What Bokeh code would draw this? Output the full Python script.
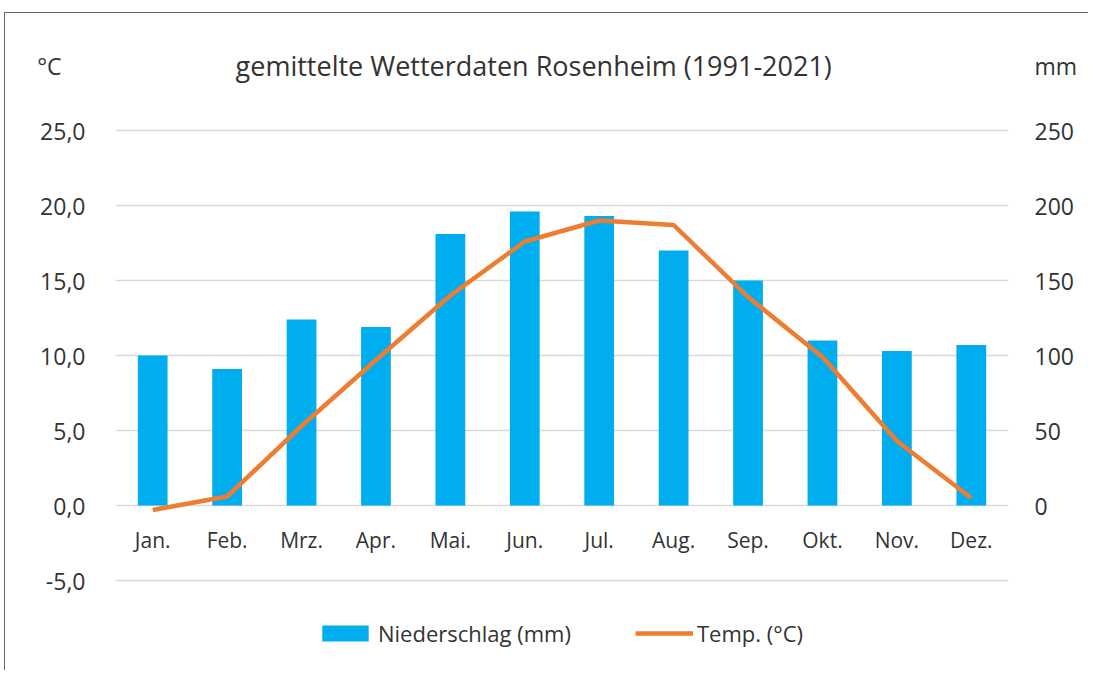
from bokeh.plotting import figure
from bokeh.models import (Range1d, LinearAxis, FixedTicker, CustomJSTickFormatter,
                          Label, Legend, LegendItem, FactorRange)
from bokeh.core.properties import value
from bokeh.embed import file_html
from bokeh.resources import INLINE

months = ["Jan.", "Feb.", "Mrz.", "Apr.", "Mai.", "Jun.", "Jul.", "Aug.", "Sep.", "Okt.", "Nov.", "Dez."]
niederschlag_mm = [100, 91, 124, 119, 181, 196, 193, 170, 150, 110, 103, 107]
temp_c = [-0.3, 0.6, 5.3, 9.7, 14.0, 17.6, 19.0, 18.7, 13.9, 9.9, 4.3, 0.5]
left_ticks = [-5, 0, 5, 10, 15, 20, 25]
right_ticks = [0, 50, 100, 150, 200, 250]
left_unit = "°C"
right_unit = "mm"

FONT = "Open Sans"
TXT = "#333333"
BLUE = "#00AEEF"
ORANGE = "#ED7D31"
UNIT_Y = 29.33  # vertical position of unit labels (in °C units)

# y range extended beyond -5..25 so that title and legend sit inside the frame
p = figure(x_range=FactorRange(*months, range_padding=0), y_range=Range1d(-11, 31),
           frame_width=893, frame_height=630,
           min_border_left=110, min_border_right=80, min_border_top=27, min_border_bottom=0,
           output_backend="svg", toolbar_location=None)
p.extra_y_ranges = {"mm": Range1d(-110, 310)}
p.outline_line_color = None
p.background_fill_color = "white"
p.border_fill_color = "white"
p.styles = {"margin-left": "4px", "margin-top": "12px",
            "border-left": "1px solid #666", "border-top": "1px solid #666"}

bars = p.vbar(x=months, top=niederschlag_mm, width=0.4, y_range_name="mm",
              fill_color=BLUE, line_color=None)
line = p.line(x=months, y=temp_c, line_color=ORANGE, line_width=4.5, line_join="round")

# month labels along the 0 line
p.text(x=months, y=[-2.33] * len(months), text=months, text_align="center",
       text_baseline="middle", text_font=value(FONT), text_font_size="21px", text_color=TXT)
p.xaxis.visible = False

# left axis (unit label drawn as an extra tick above the scale)
la = p.yaxis[0]
la.ticker = FixedTicker(ticks=left_ticks + [UNIT_Y])
la.formatter = CustomJSTickFormatter(
    args=dict(unit=left_unit),
    code="if (tick > 26) { return unit + '\\u00a0\\u00a0\\u00a0\\u00a0'; } return tick.toFixed(1).replace('.', ',');")
la.axis_line_color = None
la.major_tick_line_color = None
la.minor_tick_line_color = None
la.major_label_standoff = 24
la.major_label_text_font = FONT
la.major_label_text_font_size = "23px"
la.major_label_text_color = TXT

# right axis
ra = LinearAxis(y_range_name="mm", ticker=FixedTicker(ticks=right_ticks + [UNIT_Y * 10]))
ra.formatter = CustomJSTickFormatter(
    args=dict(unit=right_unit),
    code="if (tick > 260) { return unit; } return tick.toFixed(0);")
ra.axis_line_color = None
ra.major_tick_line_color = None
ra.minor_tick_line_color = None
ra.major_label_standoff = 20
ra.major_label_text_font = FONT
ra.major_label_text_font_size = "23px"
ra.major_label_text_color = TXT
p.add_layout(ra, "right")

p.xgrid.grid_line_color = None
p.ygrid.grid_line_color = "#D9D9D9"
p.ygrid.grid_line_width = 1.5
p.ygrid.ticker = FixedTicker(ticks=left_ticks)

# title
p.add_layout(Label(x=5.62, y=UNIT_Y, text="gemittelte Wetterdaten Rosenheim (1991-2021)",
                   text_align="center", text_baseline="middle", text_font=FONT,
                   text_font_size="27px", text_color=TXT))

legend = Legend(items=[LegendItem(label="Niederschlag (mm)", renderers=[bars]),
                       LegendItem(label="Temp. (°C)", renderers=[line])],
                orientation="horizontal", location=(201, 22),
                glyph_width=58, glyph_height=20, label_standoff=4, spacing=64,
                padding=0, margin=0, border_line_color=None, background_fill_alpha=0,
                label_text_font=FONT, label_text_font_size="22px", label_text_color=TXT)
p.add_layout(legend, "center")

open("out.html", "w").write(file_html(p, INLINE))
